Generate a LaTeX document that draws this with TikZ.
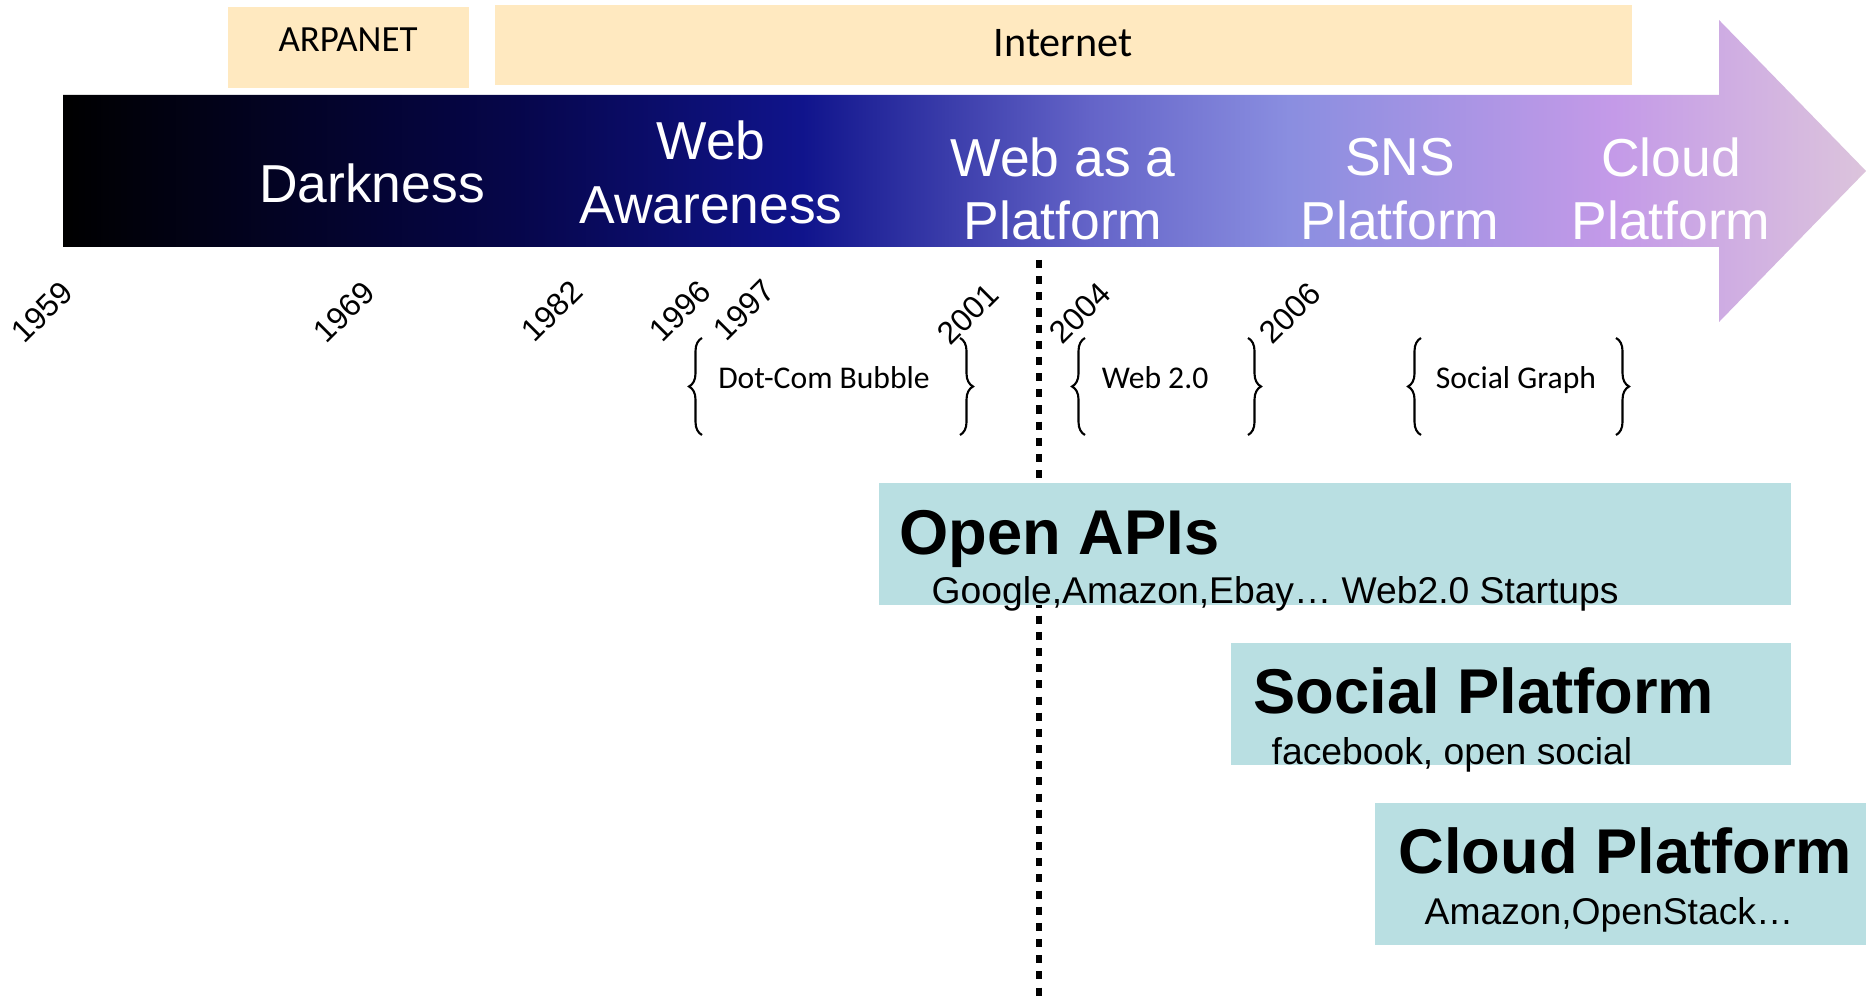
\documentclass[tikz,border=0pt]{standalone}
\usepackage{fontspec}
\setmainfont{Carlito}
\newfontfamily\arialfont{Liberation Sans}
\usetikzlibrary{decorations.pathreplacing}
\definecolor{bandyellow}{HTML}{FFE9C0}
\definecolor{boxteal}{HTML}{B9DFE2}
\definecolor{shadeA}{HTML}{06064A}
\definecolor{shadeB}{HTML}{10148C}
\definecolor{shadeC}{HTML}{6464C8}
\definecolor{shadeD}{HTML}{8A8EE0}
\definecolor{shadeE}{HTML}{C49AE8}
\definecolor{shadeF}{HTML}{DCC4DC}
\pgfdeclarehorizontalshading{eraShade}{100bp}{color(0bp)=(black); color(25bp)=(black);
  color(37.5bp)=(shadeA); color(45.5bp)=(shadeB); color(53.5bp)=(shadeC);
  color(59bp)=(shadeD); color(68bp)=(shadeE); color(75bp)=(shadeF); color(100bp)=(shadeF)}
\begin{document}
\begin{tikzpicture}[x=1cm,y=-1cm,
    era/.style={text=white,font=\arialfont\fontsize{15.2}{18}\selectfont,align=center},
    year/.style={font=\arialfont\fontsize{9}{10}\selectfont,rotate=45},
    span/.style={font=\fontsize{9}{11}\selectfont,anchor=base},
    bracket/.style={decorate,decoration={brace,amplitude=0.13cm},line width=0.6pt},
    headline/.style={font=\arialfont\bfseries\fontsize{18}{21}\selectfont,anchor=base west,inner sep=0pt},
    examples/.style={font=\arialfont\fontsize{10.6}{12}\selectfont,anchor=base west,inner sep=0pt}]
    \useasboundingbox (0,0) rectangle (18.66,10.03);
    % timeline arrow
    \shade[shading=eraShade] (0.63,0.95) -- (17.19,0.95) -- (17.19,0.20) -- (18.66,1.71)
        -- (17.19,3.22) -- (17.19,2.47) -- (0.63,2.47) -- cycle;
    \fill[bandyellow] (2.28,0.07) rectangle (4.69,0.88);
    \fill[bandyellow] (4.95,0.05) rectangle (16.32,0.85);
    \node[font=\fontsize{10.5}{12}\selectfont,anchor=base] (arpanet) at (3.48,0.52) {ARPANET};
    \node[font=\fontsize{12}{14}\selectfont,anchor=base] (internet) at (10.63,0.57) {Internet};
    \node[era] (darkness) at (3.72,1.83) {Darkness};
    \node[era] (awareness) at (7.11,1.725) {Web\\Awareness};
    \node[era] (webplatform) at (10.63,1.89) {Web as a\\Platform};
    \node[era] (snsplatform) at (14.00,1.89) {SNS\\Platform};
    \node[era] (cloudplatform) at (16.71,1.89) {Cloud\\Platform};
    % years
    \node[year] (y1959) at (0.42,3.12) {1959};
    \node[year] (y1969) at (3.44,3.12) {1969};
    \node[year] (y1982) at (5.52,3.11) {1982};
    \node[year] (y1996) at (6.80,3.11) {1996};
    \node[year] (y1997) at (7.44,3.10) {1997};
    \node[year] (y2001) at (9.68,3.14) {2001};
    \node[year] (y2004) at (10.80,3.13) {2004};
    \node[year] (y2006) at (12.90,3.13) {2006};
    % periods
    \node[span] (dotcom) at (8.24,3.89) {Dot-Com Bubble};
    \node[span] (webtwo) at (11.55,3.89) {Web 2.0};
    \node[span] (socialgraph) at (15.16,3.89) {Social Graph};
    \draw[bracket] (7.02,4.35) -- (7.02,3.38);
    \draw[bracket] (9.60,3.38) -- (9.60,4.35);
    \draw[bracket] (10.85,4.35) -- (10.85,3.38);
    \draw[bracket] (12.48,3.38) -- (12.48,4.35);
    \draw[bracket] (14.21,4.35) -- (14.21,3.38);
    \draw[bracket] (16.16,3.38) -- (16.16,4.35);
    % 2001 divider
    \coordinate (divtop) at (10.39,2.60);
    \coordinate (divbottom) at (10.39,10.03);
    \draw[line width=1.9pt,dash pattern=on 2.3pt off 2.3pt] (divtop) -- (divbottom);
    % platforms
    \fill[boxteal] (8.79,4.83) rectangle (17.91,6.05);
    \fill[boxteal] (12.31,6.43) rectangle (17.91,7.65);
    \fill[boxteal] (13.75,8.03) rectangle (18.66,9.45);
    \node[headline] (openapis) at (8.99,5.55) {Open APIs};
    \node[examples] (openapisex) at (9.31,6.04) {Google,Amazon,Ebay… Web2.0 Startups};
    \node[headline] (social) at (12.53,7.14) {Social Platform};
    \node[examples] (socialex) at (12.71,7.64) {facebook, open social};
    \node[headline] (cloud) at (13.98,8.73) {Cloud Platform};
    \node[examples] (cloudex) at (14.24,9.24) {Amazon,OpenStack…};
\end{tikzpicture}
\end{document}
